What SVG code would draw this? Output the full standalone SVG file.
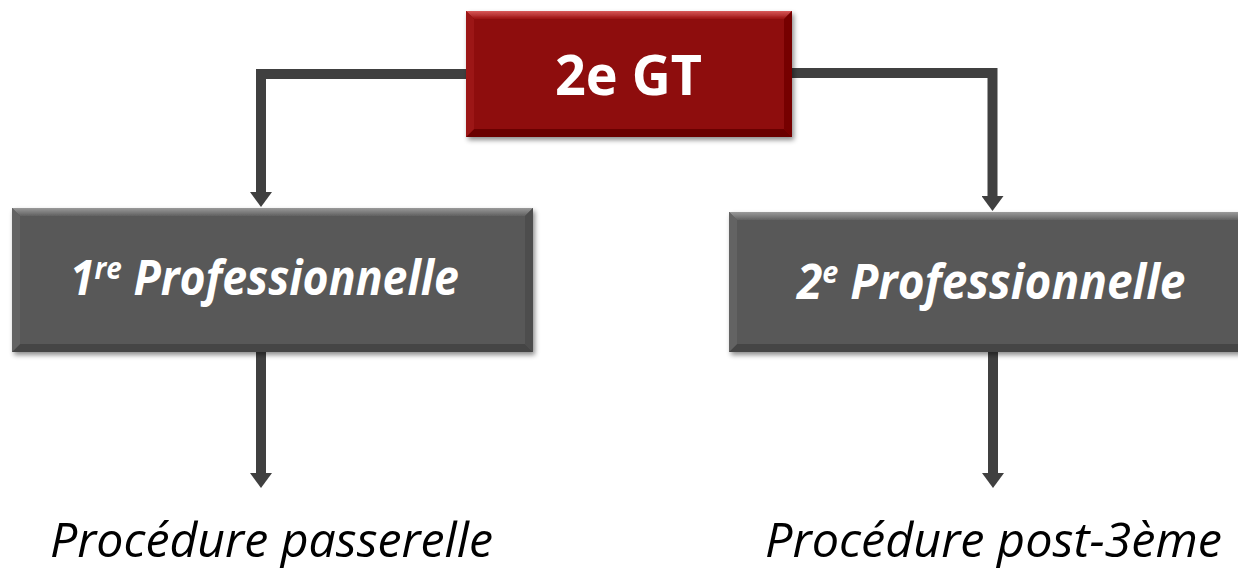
<svg xmlns="http://www.w3.org/2000/svg" width="1238" height="569" viewBox="0 0 1238 569">
<style>
.conn{fill:none;stroke:#404040;stroke-width:10;stroke-linejoin:miter;stroke-linecap:butt}
.gbase{fill:#595959}
.rbase{fill:#8e0707}
.btxt{font-family:"Open Sans","Liberation Sans",sans-serif;font-weight:bold;font-style:italic;fill:#ffffff;font-size:48px}
.ttxt{font-family:"Open Sans","Liberation Sans",sans-serif;font-weight:bold;fill:#ffffff}
.ltxt{font-family:"Open Sans","Liberation Sans",sans-serif;font-style:italic;fill:#000000;font-size:48px}
.gtop{fill:url(#gTop)}.gbot{fill:#454545}.gleft{fill:#636363}.gright{fill:#4d4d4d}
.rtop{fill:url(#rTop)}.rbot{fill:#6a0505}.rleft{fill:#9c1414}.rright{fill:#760505}
</style>
<defs>
<linearGradient id="gTop" x1="0" y1="0" x2="0" y2="1"><stop offset="0" stop-color="#9a9a9a"/><stop offset="1" stop-color="#616161"/></linearGradient>
<linearGradient id="rTop" x1="0" y1="0" x2="0" y2="1"><stop offset="0" stop-color="#d85a5a"/><stop offset="1" stop-color="#9a1010"/></linearGradient>
<filter id="sh" x="-5%" y="-10%" width="112%" height="130%"><feDropShadow dx="2" dy="3" stdDeviation="2.5" flood-color="#000" flood-opacity="0.45"/></filter>
<marker id="ah" viewBox="0 -11 15 22" refX="0" refY="0" markerWidth="15" markerHeight="22" markerUnits="userSpaceOnUse" orient="auto"><path d="M0,-11 L15,0 L0,11 z" fill="#404040"/></marker>
</defs>
<g id="connectors">
<path class="conn" d="M470,74 H261 V192" marker-end="url(#ah)"/>
<path class="conn" d="M788,73 H992.5 V196" marker-end="url(#ah)"/>
<path class="conn" d="M261,350 V473" marker-end="url(#ah)"/>
<path class="conn" d="M993,350 V473" marker-end="url(#ah)"/>
</g>
<g id="node-2eGT">
<g filter="url(#sh)">
<rect class="rbase" x="466" y="11" width="326" height="126"/>
<polygon class="rtop" points="466,11 792,11 784,19 474,19"/>
<polygon class="rbot" points="466,137 792,137 784,129 474,129"/>
<polygon class="rleft" points="466,11 474,19 474,129 466,137"/>
<polygon class="rright" points="792,11 784,19 784,129 792,137"/>
</g>
<text class="ttxt" x="628.5" y="95" font-size="55" text-anchor="middle" textLength="147" lengthAdjust="spacingAndGlyphs">2e GT</text>
</g>
<g id="node-1re">
<g filter="url(#sh)">
<rect class="gbase" x="12" y="208" width="521" height="144"/>
<polygon class="gtop" points="12,208 533,208 525,216 20,216"/>
<polygon class="gbot" points="12,352 533,352 525,344 20,344"/>
<polygon class="gleft" points="12,208 20,216 20,344 12,352"/>
<polygon class="gright" points="533,208 525,216 525,344 533,352"/>
</g>
<text class="btxt" transform="translate(70,295) scale(0.93,1)" x="0" y="0">1<tspan font-size="30" dy="-16">re</tspan><tspan dy="16"> Professionnelle</tspan></text>
</g>
<g id="node-2e">
<g filter="url(#sh)">
<rect class="gbase" x="729" y="212" width="521" height="140"/>
<polygon class="gtop" points="729,212 1250,212 1242,220 737,220"/>
<polygon class="gbot" points="729,352 1250,352 1242,344 737,344"/>
<polygon class="gleft" points="729,212 737,220 737,344 729,352"/>
</g>
<text class="btxt" transform="translate(797,299) scale(0.958,1)" x="0" y="0">2<tspan font-size="30" dy="-16">e</tspan><tspan dy="16"> Professionnelle</tspan></text>
</g>
<g id="label-passerelle">
<text class="ltxt" x="50" y="557" textLength="443" lengthAdjust="spacingAndGlyphs">Procédure passerelle</text>
</g>
<g id="label-post3">
<text class="ltxt" x="765" y="557" textLength="457" lengthAdjust="spacingAndGlyphs">Procédure post-3ème</text>
</g>
</svg>
